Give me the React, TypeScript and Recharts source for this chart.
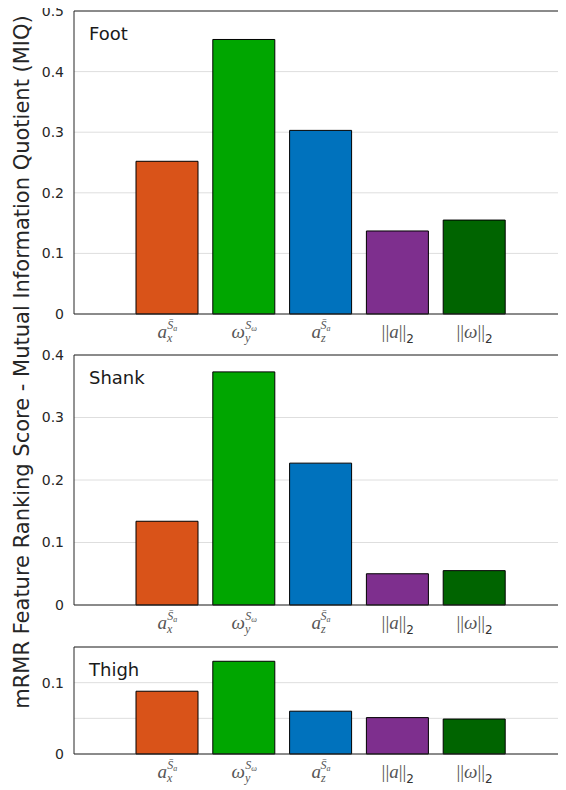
import React from 'react';
import { BarChart, Bar, XAxis, YAxis, CartesianGrid, Cell, Customized } from 'recharts';

const categories = ['ax', 'wy', 'az', 'a2', 'w2'];
const footValues = [0.252, 0.453, 0.303, 0.137, 0.155];
const shankValues = [0.134, 0.373, 0.227, 0.05, 0.055];
const thighValues = [0.088, 0.13, 0.06, 0.051, 0.049];
const barColors = ['#D95319', '#00A600', '#0072BD', '#7E2F8E', '#006400'];
const footTicks = [0, 0.1, 0.2, 0.3, 0.4, 0.5];
const shankTicks = [0, 0.1, 0.2, 0.3, 0.4];
const thighTicks = [0, 0.05, 0.1];
const thighLabeled = [0, 0.1];
const yLabel = 'mRMR Feature Ranking Score - Mutual Information Quotient (MIQ)';

const AXIS = '#262626';
const SANS = '"DejaVu Sans", Verdana, sans-serif';
const SERIF = '"Liberation Serif", "DejaVu Serif", serif';
const MATH_COLOR = '#555555';

function MathTick(props: any) {
  const { x, y, payload } = props;
  const key = payload.value;
  const base = y + 24;
  if (key === 'ax' || key === 'az') {
    return (
      <text x={x} y={base} textAnchor="middle" fill={MATH_COLOR} fontFamily={SERIF}>
        <tspan fontStyle="italic" fontSize={19}>a</tspan>
        <tspan fontStyle="italic" fontSize={12} dy={4}>{key === 'ax' ? 'x' : 'z'}</tspan>
        <tspan fontStyle="italic" fontSize={12} dx={-5} dy={-13}>{'S\u0304'}</tspan>
        <tspan fontStyle="italic" fontSize={8} dy={2}>a</tspan>
      </text>
    );
  }
  if (key === 'wy') {
    return (
      <text x={x} y={base} textAnchor="middle" fill={MATH_COLOR} fontFamily={SERIF}>
        <tspan fontStyle="italic" fontSize={19}>{'\u03C9'}</tspan>
        <tspan fontStyle="italic" fontSize={12} dy={4}>y</tspan>
        <tspan fontStyle="italic" fontSize={12} dx={-5} dy={-13}>S</tspan>
        <tspan fontStyle="italic" fontSize={8} dy={2}>{'\u03C9'}</tspan>
      </text>
    );
  }
  const sym = key === 'a2' ? 'a' : '\u03C9';
  return (
    <text x={x} y={base} textAnchor="middle" fill={MATH_COLOR} fontFamily={SERIF}>
      <tspan fontSize={19}>||</tspan>
      <tspan fontStyle="italic" fontSize={19}>{sym}</tspan>
      <tspan fontSize={19}>||</tspan>
      <tspan fontSize={12} fontFamily={SANS} fill="#333" dy={5}>2</tspan>
    </text>
  );
}

type PanelProps = {
  values: number[];
  ticks: number[];
  labeled: number[];
  max: number;
  title: string;
  height: number;
  marginTop: number;
};

function Panel({ values, ticks, labeled, max, title, height, marginTop }: PanelProps) {
  const data = categories.map((c, i) => ({ cat: c, value: values[i] }));
  const fmt = (v: number) => (labeled.includes(v) ? String(v) : '');
  const pad = { left: 55, right: 53 };
  return (
    <BarChart
      width={558}
      height={height}
      data={data}
      margin={{ top: marginTop, right: 0, bottom: 4, left: 16 }}
      barCategoryGap={0}
    >
      <CartesianGrid vertical={false} stroke="#dedede" />
      <XAxis
        dataKey="cat"
        height={30}
        padding={pad}
        tickLine={false}
        tickSize={0}
        tickMargin={0}
        interval={0}
        axisLine={{ stroke: AXIS }}
        tick={<MathTick />}
      />
      <XAxis
        xAxisId="top"
        orientation="top"
        dataKey="cat"
        mirror
        padding={pad}
        interval={0}
        tick={false}
        tickSize={5}
        axisLine={{ stroke: AXIS }}
        tickLine={{ stroke: AXIS }}
      />
      <YAxis
        type="number"
        domain={[0, max]}
        ticks={ticks}
        interval={0}
        width={50}
        tickLine={false}
        tickSize={0}
        tickMargin={10}
        axisLine={{ stroke: AXIS }}
        tick={{ fill: AXIS, fontSize: 14, fontFamily: SANS }}
        tickFormatter={fmt}
      />
      <YAxis
        yAxisId="lin"
        type="number"
        domain={[0, max]}
        ticks={ticks}
        interval={0}
        mirror
        tick={false}
        tickSize={5}
        axisLine={false}
        tickLine={{ stroke: AXIS }}
      />
      <YAxis
        yAxisId="rin"
        orientation="right"
        type="number"
        domain={[0, max]}
        ticks={ticks}
        interval={0}
        mirror
        width={10}
        tick={false}
        tickSize={5}
        axisLine={{ stroke: AXIS }}
        tickLine={{ stroke: AXIS }}
      />
      <Bar dataKey="value" barSize={62} stroke="#000" strokeWidth={1} isAnimationActive={false}>
        {data.map((d, i) => (
          <Cell key={d.cat} fill={barColors[i]} />
        ))}
      </Bar>
      <Customized
        component={
          <text x={81} y={marginTop + 29} fontSize={18} fontFamily={SANS} fill="#1a1a1a">
            {title}
          </text>
        }
      />
    </BarChart>
  );
}

export default function App() {
  return (
    <div style={{ position: 'relative', width: 558, height: 782 }}>
      <Panel values={footValues} ticks={footTicks} labeled={footTicks} max={0.5} title="Foot" height={340} marginTop={3} />
      <Panel values={shankValues} ticks={shankTicks} labeled={shankTicks} max={0.4} title="Shank" height={291} marginTop={7} />
      <Panel values={thighValues} ticks={thighTicks} labeled={thighLabeled} max={0.15} title="Thigh" height={149} marginTop={8} />
      <svg
        width={40}
        height={782}
        style={{ position: 'absolute', left: 0, top: 0, pointerEvents: 'none' }}
      >
        <text
          x={21}
          y={354}
          transform="rotate(-90 21 354)"
          textAnchor="middle"
          fontSize={21}
          fontFamily={SANS}
          fill={AXIS}
        >
          {yLabel}
        </text>
      </svg>
    </div>
  );
}
